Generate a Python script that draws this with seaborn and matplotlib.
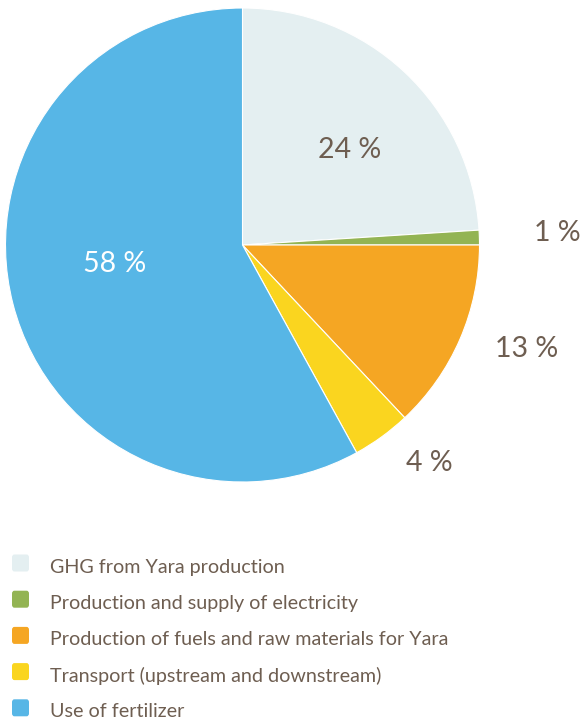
import matplotlib
matplotlib.use("Agg")
import matplotlib.pyplot as plt
from matplotlib.patches import FancyBboxPatch
import seaborn as sns

# Greenhouse gas emission sources along the value chain
categories = [
    "GHG from Yara production",
    "Production and supply of electricity",
    "Production of fuels and raw materials for Yara",
    "Transport (upstream and downstream)",
    "Use of fertilizer",
]
shares = [24, 1, 13, 4, 58]
pct_labels = ["24 %", "1 %", "13 %", "4 %", "58 %"]
colors = ["#e4eff1", "#93b453", "#f5a623", "#fad51f", "#57b6e6"]

sns.set_theme(style="white")
plt.rcParams["font.family"] = ["Lato", "DejaVu Sans"]

text_color = "#6e5e51"
W, H = 588, 722
fig = plt.figure(figsize=(W / 100, H / 100), dpi=100)

# pie placed by pixel center / radius
cx, cy, r = 242.5, 245, 237
ax = fig.add_axes([(cx - r) / W, 1 - (cy + r) / H, 2 * r / W, 2 * r / H])
wedges, _ = ax.pie(
    shares,
    colors=colors,
    startangle=90,
    counterclock=False,
    wedgeprops=dict(edgecolor="white", linewidth=0.8),
)
ax.set_xlim(-1, 1)
ax.set_ylim(-1, 1)
ax.set_aspect("equal")
ax.axis("off")

# label placement (pie units) and colour per slice
label_pos = [(0.45, 0.40), (1.33, 0.05), (1.20, -0.44), (0.79, -0.92), (-0.54, -0.08)]
label_col = [text_color, text_color, text_color, text_color, "white"]
for txt, (lx, ly), c in zip(pct_labels, label_pos, label_col):
    ax.text(lx, ly, txt, ha="center", va="center", fontsize=20.5,
            color=c, fontweight="normal", clip_on=False)

# legend drawn as rounded swatches with captions
row0, step = 567, 36.2
for i, (name, col) in enumerate(zip(categories, colors)):
    yc = row0 + i * step
    sq = 17
    fig.patches.append(FancyBboxPatch(
        (12 / W, 1 - (yc - 4 + sq / 2) / H), sq / W, sq / H,
        boxstyle="round,pad=0,rounding_size=0.004",
        transform=fig.transFigure, facecolor=col, edgecolor="none"))
    fig.text(50 / W, 1 - yc / H, name, ha="left", va="center",
             fontsize=14.2, color=text_color, fontweight="normal")

fig.savefig("out.png", dpi=100, facecolor="white")
